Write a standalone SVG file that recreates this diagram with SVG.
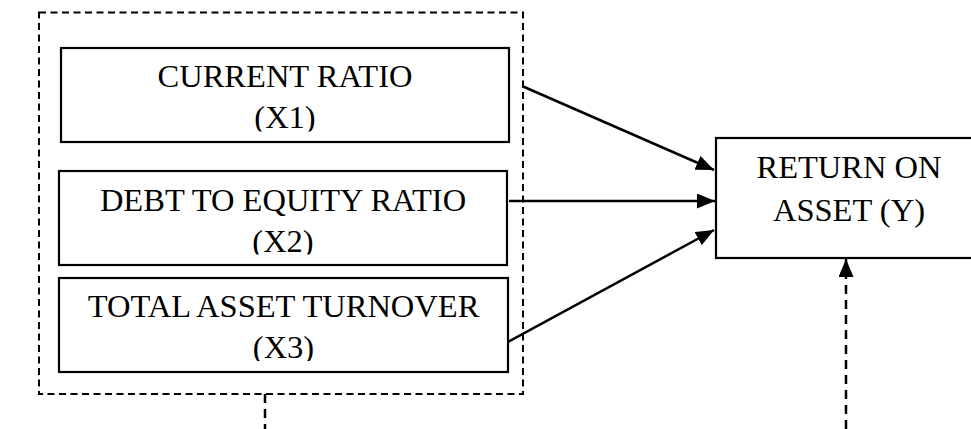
<svg xmlns="http://www.w3.org/2000/svg" width="971" height="429" viewBox="0 0 971 429">
  <style>
    .box { fill: #fff; stroke: #000; stroke-width: 2.2; }
    .group { fill: none; stroke: #000; stroke-width: 2; stroke-dasharray: 7 4.5; }
    .label { font-family: "Liberation Serif", "Times New Roman", serif; font-size: 32.5px; fill: #000; text-anchor: middle; }
    .edge { fill: none; stroke: #000; stroke-width: 2.5; }
    .dashed { fill: none; stroke: #000; stroke-width: 2.5; stroke-dasharray: 9 6; }
  </style>
  <defs>
    <marker id="arrow" viewBox="0 0 18 15" refX="18" refY="7.5" markerWidth="18" markerHeight="15" markerUnits="userSpaceOnUse" orient="auto">
      <path d="M0,0 L18,7.5 L0,15 Z" fill="#000"/>
    </marker>
    <clipPath id="clip-x1"><rect x="61" y="48" width="448" height="83.5"/></clipPath>
    <clipPath id="clip-x2"><rect x="59" y="171" width="448" height="83.5"/></clipPath>
    <clipPath id="clip-x3"><rect x="59" y="278" width="449" height="83"/></clipPath>
  </defs>

  <rect width="971" height="429" fill="#fff"/>

  <!-- dashed frame around the independent variables -->
  <g id="independent-group">
    <rect class="group" x="39" y="12.5" width="484" height="381.5"/>
  </g>

  <g id="x1">
    <rect class="box" x="61" y="48" width="448" height="94"/>
    <g clip-path="url(#clip-x1)">
      <text class="label" x="285" y="87">CURRENT RATIO</text>
      <text class="label" x="285" y="128">(X1)</text>
    </g>
  </g>

  <g id="x2">
    <rect class="box" x="59" y="171" width="448" height="94"/>
    <g clip-path="url(#clip-x2)">
      <text class="label" x="283" y="211">DEBT TO EQUITY RATIO</text>
      <text class="label" x="283" y="252">(X2)</text>
    </g>
  </g>

  <g id="x3">
    <rect class="box" x="59" y="278" width="449" height="94"/>
    <g clip-path="url(#clip-x3)">
      <text class="label" x="283.5" y="317">TOTAL ASSET TURNOVER</text>
      <text class="label" x="283.5" y="358">(X3)</text>
    </g>
  </g>

  <g id="y">
    <rect class="box" x="716" y="138" width="266" height="120"/>
    <text class="label" x="849" y="178">RETURN ON</text>
    <text class="label" x="849" y="221">ASSET (Y)</text>
  </g>

  <g id="connectors">
    <line class="edge" x1="522" y1="86" x2="714" y2="170" marker-end="url(#arrow)"/>
    <line class="edge" x1="509" y1="201" x2="715" y2="201" marker-end="url(#arrow)"/>
    <line class="edge" x1="508" y1="342" x2="714" y2="230" marker-end="url(#arrow)"/>
    <line class="dashed" x1="265" y1="394" x2="265" y2="429"/>
    <line class="dashed" x1="846" y1="429" x2="846" y2="259" marker-end="url(#arrow)"/>
  </g>
</svg>
